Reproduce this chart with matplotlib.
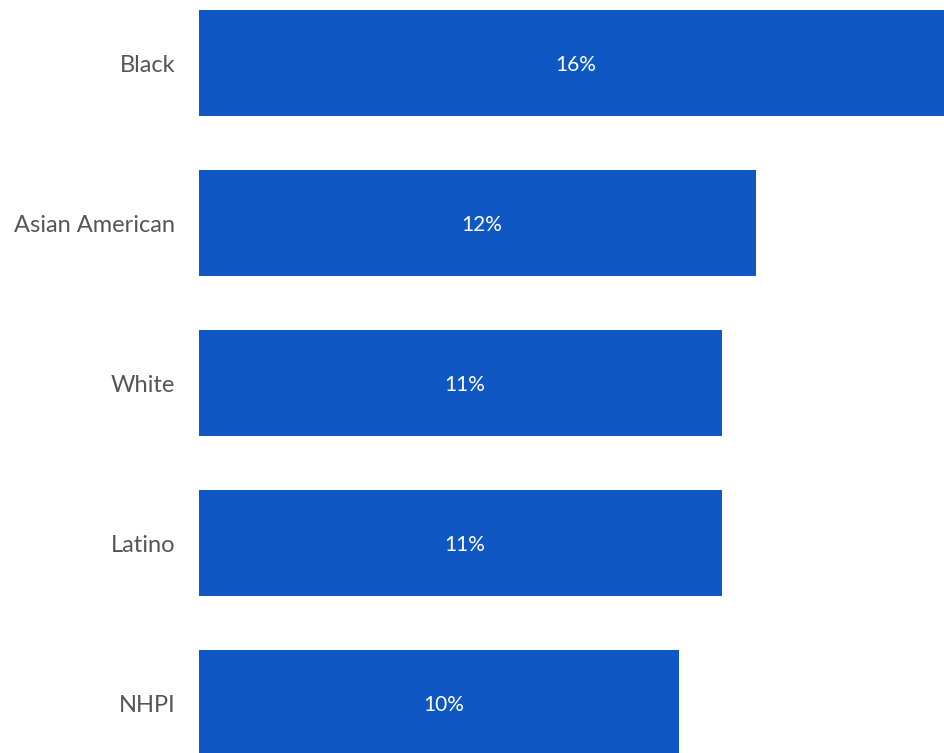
import matplotlib
matplotlib.use("Agg")
import matplotlib.pyplot as plt

categories = ["Black", "Asian American", "White", "Latino", "NHPI"]
values = [16.0, 11.96, 11.23, 11.23, 10.31]
labels = ["16%", "12%", "11%", "11%", "10%"]

bar_color = "#0F58C3"
text_color = "#555555"

plt.rcParams['font.family'] = ['Lato', 'DejaVu Sans']

fig = plt.figure(figsize=(9.44, 7.53), dpi=100)
ax = fig.add_axes([199/944, 0, 1 - 199/944, 1])

y = list(range(len(categories)))
ax.barh(y, values, height=0.665, color=bar_color)
for yi, v, lab in zip(y, values, labels):
    ax.text(v / 2 + 0.1, yi + 0.012, lab, ha="center", va="center", color="white", fontsize=15)

ax.set_xlim(0, 16)
ax.set_ylim(4.3125, -0.394)
ax.set_yticks(y)
ax.set_yticklabels(categories, fontsize=17, color=text_color)
ax.tick_params(axis="y", length=0, pad=17)
ax.set_xticks([])
for s in ax.spines.values():
    s.set_visible(False)

fig.savefig("out.png", dpi=100)
